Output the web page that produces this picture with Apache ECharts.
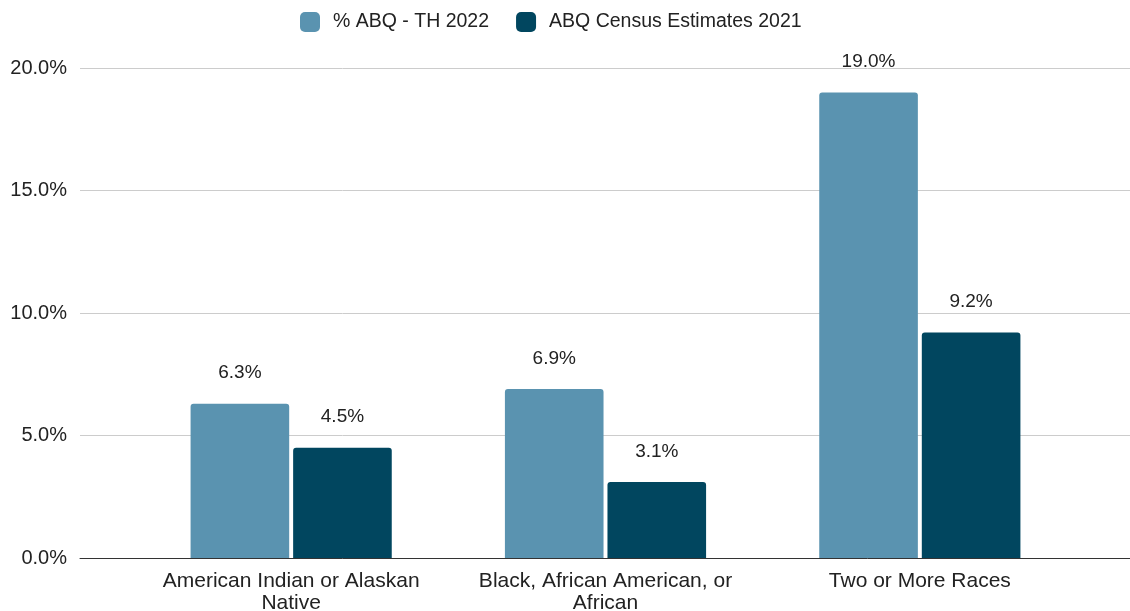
<!DOCTYPE html>
<html>
<head>
<meta charset="utf-8">
<script src="https://cdn.jsdelivr.net/npm/echarts@6/dist/echarts.min.js"></script>
<style>
  html, body { margin: 0; padding: 0; background: #fff; }
  #main { width: 1130px; height: 611px; }
</style>
</head>
<body>
<div id="main"></div>
<script>
var categories = ['American Indian or Alaskan\nNative', 'Black, African American, or\nAfrican', 'Two or More Races'];
var abqTh2022 = [6.3, 6.9, 19.0];
var census2021 = [4.5, 3.1, 9.2];
var seriesNames = ['% ABQ - TH 2022', 'ABQ Census Estimates 2021'];

var myChart = echarts.init(document.getElementById('main'));
var font = 'Arial, "Liberation Sans", sans-serif';

function pct(v) {
    return v.toFixed(1) + '%';
}

function barLabel() {
    return {
        show: true,
        position: 'top',
        distance: 21,
        fontSize: 19,
        color: '#222',
        fontFamily: font,
        formatter: function (p) { return pct(p.value); }
    };
}

myChart.setOption({
    animation: false,
    textStyle: { fontFamily: font },
    legend: {
        top: 7,
        left: 295,
        itemWidth: 20,
        itemHeight: 20,
        itemGap: 27,
        icon: 'roundRect',
        textStyle: { fontSize: 19.5, color: '#222', fontFamily: font, padding: [0, 0, 0, 8] },
        data: seriesNames
    },
    // outerBoundsMode none keeps the plot from shrinking to fit the labels
    grid: [
        { left: 80, right: 0, top: 68, bottom: 53, outerBoundsMode: 'none' },
        { left: 134, right: 53, top: 68, bottom: 53, outerBoundsMode: 'none' }
    ],
    xAxis: [{
        gridIndex: 0,
        type: 'value',
        min: 0,
        max: 1,
        axisLine: { show: true, onZero: false, lineStyle: { color: '#333', width: 1 } },
        axisTick: { show: false },
        axisLabel: { show: false },
        splitLine: { show: false }
    }, {
        gridIndex: 1,
        type: 'category',
        data: categories,
        axisLine: { show: false },
        axisTick: { show: false },
        axisLabel: {
            interval: 0,
            fontSize: 21,
            color: '#222',
            lineHeight: 22,
            margin: 12,
            fontFamily: font
        }
    }],
    yAxis: [{
        gridIndex: 0,
        type: 'value',
        min: 0,
        max: 20,
        interval: 5,
        axisLine: { show: false },
        axisTick: { show: false },
        axisLabel: {
            fontSize: 20,
            color: '#222',
            margin: 13,
            fontFamily: font,
            formatter: pct
        },
        splitLine: { lineStyle: { color: '#ccc', width: 1 } }
    }, {
        gridIndex: 1,
        type: 'value',
        min: 0,
        max: 20,
        interval: 5,
        show: false,
        splitLine: { show: false }
    }],
    series: [{
        name: seriesNames[0],
        type: 'bar',
        xAxisIndex: 1,
        yAxisIndex: 1,
        data: abqTh2022,
        barCategoryGap: '36%',
        barGap: '4%',
        itemStyle: { color: '#5a93b0', borderRadius: [3, 3, 0, 0] },
        label: barLabel()
    }, {
        name: seriesNames[1],
        type: 'bar',
        xAxisIndex: 1,
        yAxisIndex: 1,
        data: census2021,
        barCategoryGap: '36%',
        barGap: '4%',
        itemStyle: { color: '#01465f', borderRadius: [3, 3, 0, 0] },
        label: barLabel()
    }]
});
</script>
</body>
</html>
